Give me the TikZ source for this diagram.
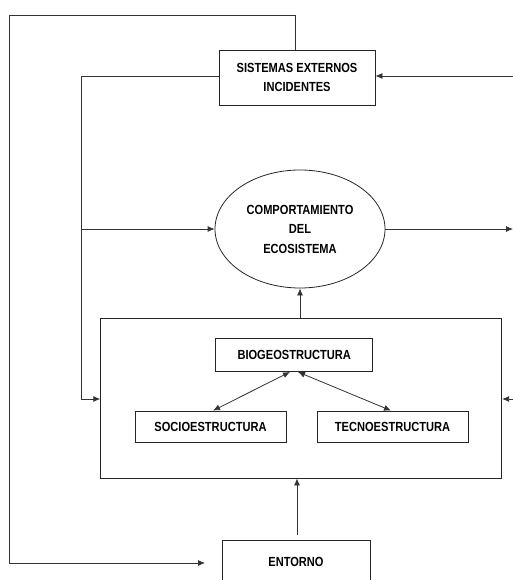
\documentclass[tikz,border=0pt]{standalone}
\usepackage{fontspec}
\setmainfont{Liberation Sans}[FakeStretch=0.84]
\usetikzlibrary{shapes.geometric,arrows.meta}
\begin{document}
\begin{tikzpicture}[x=1pt,y=-1pt,
  lbl/.style={font=\fontsize{13.2}{19.5}\selectfont\bfseries, align=center},
  boxn/.style={draw=black!85, line width=0.8pt, lbl, inner sep=0pt},
  conn/.style={draw=black!80, line width=0.8pt},
  arr/.style={conn, -{Latex[length=7pt,width=6pt]}},
  darr/.style={conn, {Latex[length=7pt,width=6pt]}-{Latex[length=7pt,width=6pt]}}]
\useasboundingbox (0,0) rectangle (513,580);
\clip (0,0) rectangle (513,580);
% nodes
\node[boxn, minimum width=156pt, minimum height=55pt] (sist) at (297,77.5) {SISTEMAS EXTERNOS\\INCIDENTES};
\node[draw=black!85, line width=0.8pt, ellipse, minimum width=170pt, minimum height=118pt, lbl] (comp) at (300,229) {COMPORTAMIENTO\\DEL\\ECOSISTEMA};
\node[draw=black!85, line width=0.8pt, minimum width=401pt, minimum height=160pt, inner sep=0pt] (big) at (301.2,398) {};
\node[boxn, minimum width=157pt, minimum height=33pt] (bio) at (294.2,354.5) {BIOGEOSTRUCTURA};
\node[boxn, minimum width=151pt, minimum height=31pt] (socio) at (210.5,426.5) {SOCIOESTRUCTURA};
\node[boxn, minimum width=151pt, minimum height=31pt] (tecno) at (392.5,426.5) {TECNOESTRUCTURA};
\node[boxn, minimum width=148pt, minimum height=50pt, anchor=north] (ent) at (296,540) {};
\node[lbl] (entl) at (296,562) {ENTORNO};
% helper coordinates
\coordinate (tl) at (9,15);
\coordinate (bl) at (9,563);
\coordinate (bla) at (205,563);
\coordinate (sl) at (81,76);
\coordinate (sb) at (81,399);
\coordinate (sm) at (81,229);
\coordinate (rin) at (513,76);
\coordinate (rbig) at (513,399);
\coordinate (rout) at (513,229);
% connectors
\draw[arr] (sist.north -| 295,0) |- (tl) -- (bl) -- (bla);
\draw[arr] (rin) -- (sist.east |- rin);
\draw[arr] (sist.west |- sl) -- (sl) -- (sb) -- (big.west |- sb);
\draw[arr] (sm) -- (comp.west);
\draw[arr] (comp.east) -- (rout);
\draw[arr] (rbig) -- (big.east |- rbig);
\draw[arr] (big.north -| comp.south) -- (comp.south);
\draw[arr] (ent.north -| 297,0) ++(0,-5) -- (big.south -| 297,0);
\draw[darr] (socio.north -| 213,0) -- (290,372);
\draw[darr] (tecno.north -| 391,0) -- (298,372);
\end{tikzpicture}
\end{document}
